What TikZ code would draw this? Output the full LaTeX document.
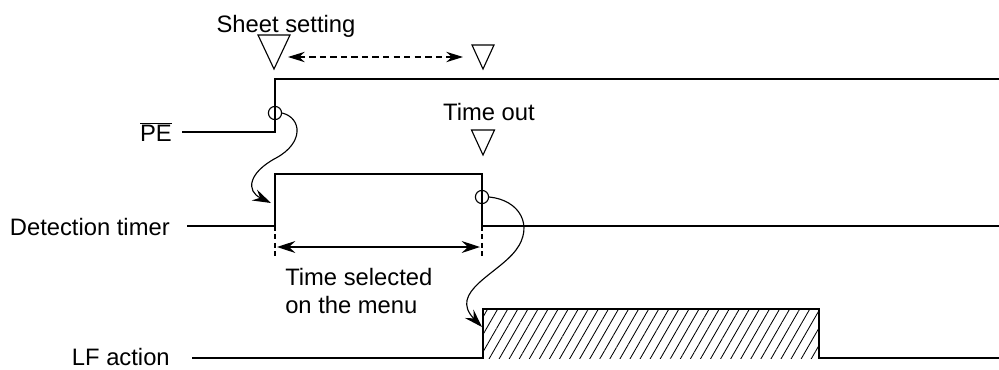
\documentclass[tikz,border=0pt]{standalone}
\usepackage{fontspec}
\setmainfont{Liberation Sans}
\usepackage{tikz}
\usetikzlibrary{arrows.meta,patterns.meta}
\tikzset{
  sig/.style    = {line width=1.1pt, line join=miter},
  lbl/.style    = {font=\fontsize{16.9}{19.9}\selectfont, inner sep=0pt},
  trig/.style   = {line width=0.8pt, line join=miter},
  ring/.style   = {draw, circle, line width=0.8pt, inner sep=0pt, minimum size=0.33cm},
  cause/.style  = {-{Stealth[length=4.6mm,width=3mm,inset=1.6mm]}, line width=0.8pt},
  span/.style   = {{Stealth[length=4.6mm,width=3mm,inset=1.6mm]}-{Stealth[length=4.6mm,width=3mm,inset=1.6mm]}, line width=0.8pt},
  guide/.style  = {line width=0.8pt, dash pattern=on 3.5pt off 2.5pt},
  hatch/.style  = {pattern={Lines[angle=60,distance=6.2pt,line width=0.6pt]}},
}
% downward triangle marker: apex, width, height
\newcommand{\downtri}[3]{\draw[trig] (#1) -- ++(-#2/2,-#3) -- ++(#2,0) -- cycle;}

\begin{document}
\begin{tikzpicture}[x=0.025cm, y=-0.025cm]
\useasboundingbox (0,0) rectangle (999,369);
% ---- signal names ----
\node[lbl, anchor=base east] (pename) at (172,141.5) {$\overline{\mbox{PE}}$};
\node[lbl, anchor=base east] (dtname) at (170,235) {Detection timer};
\node[lbl, anchor=base east] (lfname) at (170,365.5) {LF action};

% ---- PE ----
\coordinate (pe0) at (182,132);
\coordinate (pe1) at (275,132);
\coordinate (pe2) at (275,79);
\coordinate (pe3) at (999,79);
\draw[sig] (pe0) -- (pe1) -- (pe2) -- (pe3);

% ---- detection timer ----
\coordinate (dt0) at (187,226);
\coordinate (dt1) at (275,226);
\coordinate (dt2) at (275,174);
\coordinate (dt3) at (482,174);
\coordinate (dt4) at (482,226);
\coordinate (dt5) at (999,226);
\draw[sig] (dt0) -- (dt1) -- (dt2) -- (dt3) -- (dt4) -- (dt5);

% ---- LF action ----
\coordinate (lf0) at (192,358);
\coordinate (lf1) at (483,358);
\coordinate (lf2) at (483,309);
\coordinate (lf3) at (819,309);
\coordinate (lf4) at (819,358);
\coordinate (lf5) at (999,358);
\fill[hatch] (lf1) rectangle (lf3);
\draw[sig] (lf0) -- (lf1) -- (lf2) -- (lf3) -- (lf4) -- (lf5);

% ---- markers ----
\node[lbl, anchor=base] (sheet) at (286,32) {Sheet setting};
\coordinate (ss) at (274,69);
\downtri{ss}{32}{34}
\coordinate (ssend) at (483,69);
\downtri{ssend}{22}{24}
\coordinate (da0) at (288,57);
\coordinate (da1) at (463,57);
\draw[line width=0.8pt, dash pattern=on 4.5pt off 3pt,
      {Stealth[length=4.2mm,width=2.6mm,inset=1.4mm]}-{Stealth[length=4.2mm,width=2.6mm,inset=1.4mm]}] (da0) -- (da1);

\node[lbl, anchor=base] (tout) at (489,120) {Time out};
\coordinate (to) at (483,155);
\downtri{to}{23}{25}

% ---- edges and causes ----
\node[ring] (r1) at (275,113) {};
\node[ring] (r2) at (482,197) {};
\coordinate (c1) at (271,203);
\coordinate (c2) at (482,327);
\draw[cause] (r1.east) .. controls (302,118) and (304,143) .. (276,158)
             .. controls (248,173) and (246,191) .. (c1);
\draw[cause] (r2.east) .. controls (520,200) and (534,226) .. (516,250)
             .. controls (498,274) and (448,292) .. (c2);

% ---- selected time ----
\coordinate (g0) at (275,256);
\coordinate (g1) at (482,256);
\draw[guide] (dt1) -- (g0);
\draw[guide] (dt4) -- (g1);
\coordinate (ts0) at (277,247);
\coordinate (ts1) at (480,247);
\draw[span] (ts0) -- (ts1);
\node[lbl, anchor=north west, align=left] (tsel) at (285,268) {Time selected\\on the menu};
\end{tikzpicture}
\end{document}
